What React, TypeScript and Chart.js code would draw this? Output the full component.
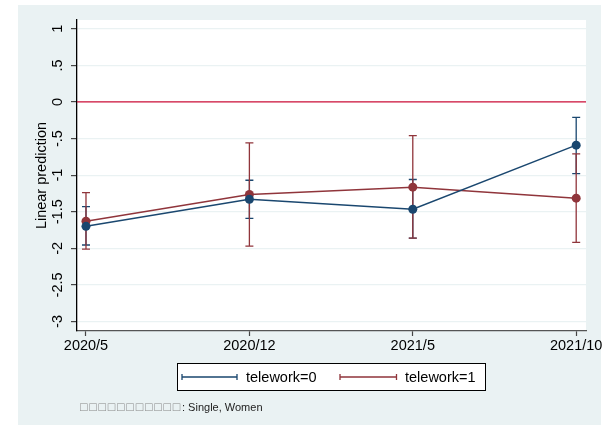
import React, { useEffect, useRef } from 'react';
import { Chart, registerables } from 'chart.js';

Chart.register(...registerables);

const categories = ['2020/5', '2020/12', '2021/5', '2021/10'];
const seriesNames = ['telework=0', 'telework=1'];
const tw0 = [-1.70, -1.33, -1.466, -0.59];
const tw0Lo = [-1.955, -1.59, -1.86, -0.98];
const tw0Hi = [-1.43, -1.07, -1.06, -0.21];
const tw1 = [-1.63, -1.265, -1.164, -1.315];
const tw1Lo = [-2.01, -1.97, -1.86, -1.92];
const tw1Hi = [-1.24, -0.56, -0.46, -0.71];
const yTicks = [1, 0.5, 0, -0.5, -1, -1.5, -2, -2.5, -3];
const yTickLabels = ['1', '.5', '0', '-.5', '-1', '-1.5', '-2', '-2.5', '-3'];
const yTitle = 'Linear prediction';
const notePrefix = '□□□□□□□□□□□';
const noteText = ': Single, Women';
const refLine = 0;

const FONT = '"Liberation Sans", Arial, Helvetica, sans-serif';
const BLUE = '#1a476f';
const RED = '#90353b';
const BG = '#eaf2f3';

const ciSets = [
  { lo: tw0Lo, hi: tw0Hi, color: BLUE },
  { lo: tw1Lo, hi: tw1Hi, color: RED },
];

const decorPlugin = {
  id: 'decor',
  beforeDraw(chart: any) {
    const { ctx, chartArea, width, height } = chart;
    ctx.save();
    ctx.fillStyle = '#ffffff';
    ctx.fillRect(0, 0, width, height);
    ctx.fillStyle = BG;
    ctx.fillRect(18, 5, 583, height - 5);
    ctx.fillStyle = '#ffffff';
    ctx.fillRect(chartArea.left, chartArea.top, chartArea.right - chartArea.left, chartArea.bottom - chartArea.top);
    ctx.restore();
  },
  beforeDatasetsDraw(chart: any) {
    const { ctx, chartArea, scales } = chart;
    const x = scales.x;
    const y = scales.y;
    ctx.save();
    // reference line
    const y0 = y.getPixelForValue(refLine);
    ctx.strokeStyle = '#d0103a';
    ctx.lineWidth = 1.3;
    ctx.beginPath();
    ctx.moveTo(chartArea.left, y0);
    ctx.lineTo(chartArea.right, y0);
    ctx.stroke();
    // error bars
    ciSets.forEach((s) => {
      ctx.strokeStyle = s.color;
      ctx.lineWidth = 1.3;
      s.lo.forEach((lo, i) => {
        const px = x.getPixelForValue(i);
        const pLo = y.getPixelForValue(lo);
        const pHi = y.getPixelForValue(s.hi[i]);
        ctx.beginPath();
        ctx.moveTo(px, pLo);
        ctx.lineTo(px, pHi);
        ctx.moveTo(px - 4, pLo);
        ctx.lineTo(px + 4, pLo);
        ctx.moveTo(px - 4, pHi);
        ctx.lineTo(px + 4, pHi);
        ctx.stroke();
      });
    });
    ctx.restore();
  },
  afterDraw(chart: any) {
    const { ctx, scales } = chart;
    const y = scales.y;
    ctx.save();
    ctx.fillStyle = '#000';
    // y tick labels (vertical)
    ctx.font = `14.5px ${FONT}`;
    ctx.textAlign = 'center';
    ctx.textBaseline = 'alphabetic';
    yTicks.forEach((v, i) => {
      const py = y.getPixelForValue(v);
      ctx.save();
      ctx.translate(61.5, py);
      ctx.rotate(-Math.PI / 2);
      ctx.fillText(yTickLabels[i], 0, 0);
      ctx.restore();
    });
    // y title
    const midY = (y.top + y.bottom) / 2;
    ctx.save();
    ctx.translate(46, midY);
    ctx.rotate(-Math.PI / 2);
    ctx.fillText(yTitle, 0, 0);
    ctx.restore();

    // legend
    const lx = 177, ly = 363, lw = 309, lh = 28;
    ctx.fillStyle = '#fff';
    ctx.fillRect(lx, ly, lw, lh);
    ctx.strokeStyle = '#000';
    ctx.lineWidth = 1;
    ctx.strokeRect(lx + 0.5, ly + 0.5, lw - 1, lh - 1);
    const cy = ly + lh / 2;
    const entries = [
      { x0: 182, x1: 237, tx: 246, color: BLUE, label: seriesNames[0] },
      { x0: 340, x1: 396.5, tx: 405, color: RED, label: seriesNames[1] },
    ];
    entries.forEach((e) => {
      ctx.strokeStyle = e.color;
      ctx.lineWidth = 1.3;
      ctx.beginPath();
      ctx.moveTo(e.x0, cy);
      ctx.lineTo(e.x1, cy);
      ctx.moveTo(e.x0, cy - 3);
      ctx.lineTo(e.x0, cy + 3);
      ctx.moveTo(e.x1, cy - 3);
      ctx.lineTo(e.x1, cy + 3);
      ctx.stroke();
      ctx.fillStyle = '#000';
      ctx.font = `14.5px ${FONT}`;
      ctx.textAlign = 'left';
      ctx.textBaseline = 'middle';
      ctx.fillText(e.label, e.tx, cy + 0.5);
    });

    // note
    ctx.textAlign = 'left';
    ctx.textBaseline = 'middle';
    ctx.font = `12.5px ${FONT}`;
    const boxW = ctx.measureText(notePrefix).width;
    const targetW = 102;
    const gap = (targetW - boxW) / notePrefix.length;
    ctx.fillStyle = '#8a8a8a';
    let cx = 80;
    for (const ch of notePrefix) {
      ctx.fillText(ch, cx, 407.5);
      cx += ctx.measureText(ch).width + gap;
    }
    ctx.fillStyle = '#222';
    ctx.font = `11px ${FONT}`;
    ctx.fillText(noteText, 80 + targetW, 407.5);
    ctx.restore();
  },
};

export default function App() {
  const ref = useRef<HTMLCanvasElement>(null);
  useEffect(() => {
    document.body.style.margin = '0';
    const canvas = ref.current;
    if (!canvas) return;
    const chart = new Chart(canvas, {
      type: 'line',
      data: {
        datasets: [
          {
            label: seriesNames[0],
            data: tw0.map((v, i) => ({ x: i, y: v })),
            borderColor: BLUE,
            backgroundColor: BLUE,
            pointBackgroundColor: BLUE,
            pointBorderWidth: 0,
            pointRadius: 4.5,
            borderWidth: 1.5,
            tension: 0,
          },
          {
            label: seriesNames[1],
            data: tw1.map((v, i) => ({ x: i, y: v })),
            borderColor: RED,
            backgroundColor: RED,
            pointBackgroundColor: RED,
            pointBorderWidth: 0,
            pointRadius: 4.5,
            borderWidth: 1.5,
            tension: 0,
          },
        ],
      },
      options: {
        animation: false,
        responsive: false,
        devicePixelRatio: 1,
        events: [],
        layout: { padding: { left: 18, right: 18, top: 20, bottom: 64 } },
        plugins: {
          legend: { display: false },
          tooltip: { enabled: false },
          title: { display: false },
        },
        scales: {
          x: {
            type: 'linear',
            min: -0.055,
            max: 3.06,
            afterBuildTicks: (scale: any) => {
              scale.ticks = categories.map((_, i) => ({ value: i }));
            },
            afterFit: (scale: any) => {
              scale.height = 30;
              scale.paddingLeft = 0;
              scale.paddingRight = 0;
            },
            grid: {
              drawOnChartArea: false,
              drawTicks: true,
              tickLength: 5,
              tickColor: '#444',
              tickWidth: 1.2,
            },
            border: { display: true, color: '#555', width: 1.3 },
            ticks: {
              autoSkip: false,
              maxRotation: 0,
              minRotation: 0,
              padding: 1,
              color: '#000',
              font: { family: FONT, size: 14.5 },
              callback: (v: any) => categories[Math.round(Number(v))] ?? '',
            },
          },
          y: {
            type: 'linear',
            min: -3.13,
            max: 1.12,
            afterBuildTicks: (scale: any) => {
              scale.ticks = yTicks.map((v) => ({ value: v }));
            },
            afterFit: (scale: any) => {
              scale.width = 59;
              scale.paddingTop = 0;
              scale.paddingBottom = 0;
            },
            grid: {
              color: BG,
              lineWidth: 1.2,
              drawTicks: true,
              tickLength: 6,
              tickColor: '#444',
              tickWidth: 1.2,
            },
            border: { display: true, color: '#000', width: 1.3 },
            ticks: { display: false },
          },
        },
      },
      plugins: [decorPlugin],
    });
    return () => chart.destroy();
  }, []);
  return <canvas ref={ref} width={604} height={425} style={{ display: 'block', width: 604, height: 425 }} />;
}
